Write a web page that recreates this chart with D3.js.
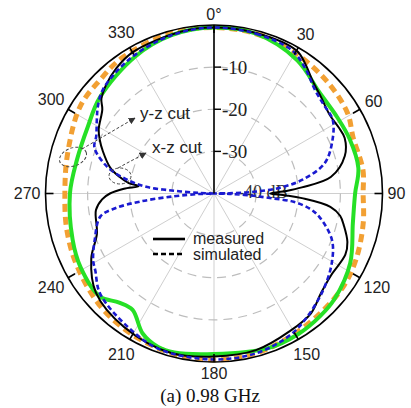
<!DOCTYPE html>
<html><head><meta charset="utf-8">
<script src="https://cdn.jsdelivr.net/npm/d3@7/dist/d3.min.js"></script>
<style>html,body{margin:0;padding:0;background:#fff}</style>
</head><body>
<svg id="c" width="411" height="408"></svg>
<script>
// ---- data: [angle in degrees, gain in dB] ----
const angleTicks = [0,30,60,90,120,150,180,210,240,270,300,330];
const angleLabels = ["0°","30","60","90","120","150","180","210","240","270","300","330"];
const dbTicks = [-10,-20,-30];
const dbLabels = ["-10","-20","-30"];
const centerLabel = "-40 dB";

const yzSimulated = [[0,-0.6],[15,-0.8],[30,-1.5],[45,-2.2],[59,-3.0],[68,-4.4],[81,-4.2],[90,-4.6],[101,-3.9],[114,-2.9],[125,-2.2],[138,-2.0],[152,-1.5],[165,-0.8],[180,-0.5],[195,-0.8],[210,-1.3],[225,-2.0],[242,-3.2],[256,-4.0],[270,-4.6],[285,-4.0],[303,-2.1],[315,-1.8],[326,-1.1],[345,-0.6]];
const yzMeasured = [[0,-0.6],[15,-0.8],[32,-2.7],[46,-5.3],[58,-5.6],[68,-5.3],[80,-5.2],[90,-6.5],[102,-6.3],[117,-3.7],[131,-2.0],[139,-1.5],[149,-1.1],[161,-1.1],[180,-1.9],[194,-1.1],[200,-1.2],[207,-2.7],[215,-6.3],[221,-5.7],[228,-3.5],[241,-3.8],[252,-4.7],[270,-5.8],[284,-6.5],[298,-6.1],[310,-4.6],[330,-2.5],[345,-1.1]];
const xzMeasured = [[0,-0.6],[15,-0.6],[30,-0.8],[35,-2.3],[41,-4.4],[48,-5.8],[56,-6.8],[62,-6.5],[67,-6.3],[74,-7.7],[82,-12.0],[86,-19.1],[88,-22.9],[90,-26.7],[91.5,-22.9],[93,-19.1],[96.5,-12.2],[100,-9.6],[104,-8.2],[110,-6.3],[115,-5.6],[125,-6.1],[133,-5.3],[141,-3.4],[151,-2.7],[165,-1.5],[180,-1.3],[195,-0.8],[214,-1.8],[230,-3.4],[242,-7.0],[251,-10.6],[262,-11.7],[267,-13.4],[270,-15.3],[273,-18.6],[275.5,-22.0],[277,-19.6],[280,-17.2],[284,-14.6],[291,-11.7],[295,-10.1],[299,-8.7],[307,-6.8],[310,-5.1],[315,-3.7],[322,-2.3],[330,-1.3],[348,-0.8]];
const xzSimulated = [[0,-0.6],[15,-0.8],[28.5,-1.3],[36,-3.2],[44,-5.6],[51,-6.5],[58,-6.8],[65.6,-9.1],[74.6,-12.7],[81,-18.6],[85,-24.3],[87.5,-30.5],[89,-36.4],[90,-40],[91.5,-36.4],[93,-31.7],[94.6,-26.7],[96,-21.0],[99,-17.0],[102.5,-14.4],[111.5,-9.9],[120.7,-7.5],[131.5,-5.4],[143,-3.3],[152,-1.8],[165,-0.8],[180,-0.6],[199,-0.8],[213,-2.3],[228.7,-4.0],[237,-6.4],[241,-7.2],[248.7,-9.6],[258.6,-12.5],[261.5,-16.3],[263.8,-22.4],[266,-30.5],[268,-36.4],[270,-40],[272,-36.4],[274,-30.5],[275.5,-24.1],[279,-19.1],[284,-13.9],[291,-9.6],[296,-8.9],[302,-7.2],[306.7,-5.6],[313,-3.9],[328,-2.3],[345,-1.1]];

// ---- layout ----
const cx = 214, cy = 193.5, R = 168.5;
const svg = d3.select("#c");
const g = svg.append("g").attr("transform", `translate(${cx},${cy})`);
const r = d3.scaleLinear().domain([-40, 0]).range([0, R]);
const rad = d => d * Math.PI / 180;
const sans = "Liberation Sans, Arial, sans-serif", serif = "Liberation Serif, Times New Roman, serif";

// spokes
g.selectAll("line.spoke").data(d3.range(0, 360, 30)).join("line")
  .attr("x1", 0).attr("y1", 0)
  .attr("x2", d => R * Math.sin(rad(d))).attr("y2", d => -R * Math.cos(rad(d)))
  .attr("stroke", "#cfcfcf").attr("stroke-width", 1);
// dashed dB circles
g.selectAll("circle.grid").data(dbTicks).join("circle")
  .attr("r", d => r(d)).attr("fill", "none")
  .attr("stroke", "#bdbdbd").attr("stroke-width", 1.2).attr("stroke-dasharray", "9,6");

// center label (under the curves)
g.append("text").attr("x", 24).attr("y", -2).attr("dominant-baseline", "central")
  .attr("font-family", serif).attr("font-size", 18).attr("fill", "#333")
  .text(centerLabel);

// curves
const line = d3.lineRadial().angle(d => rad(d[0])).radius(d => r(d[1]))
  .curve(d3.curveCatmullRomClosed.alpha(0.5));
g.append("path").attr("d", line(yzSimulated)).attr("fill", "none")
  .attr("stroke", "#f2a033").attr("stroke-width", 5).attr("stroke-dasharray", "8,5");
g.append("path").attr("d", line(yzMeasured)).attr("fill", "none")
  .attr("stroke", "#26e026").attr("stroke-width", 4);
g.append("path").attr("d", line(xzMeasured)).attr("fill", "none")
  .attr("stroke", "#000").attr("stroke-width", 2);
g.append("path").attr("d", line(xzSimulated)).attr("fill", "none")
  .attr("stroke", "#1a1ad0").attr("stroke-width", 2.6).attr("stroke-dasharray", "5,3");

// outer circle & ticks
g.append("circle").attr("r", R).attr("fill", "none").attr("stroke", "#000").attr("stroke-width", 1.6);
g.selectAll("line.otick").data(angleTicks).join("line")
  .attr("x1", d => (R - 8) * Math.sin(rad(d))).attr("y1", d => -(R - 8) * Math.cos(rad(d)))
  .attr("x2", d => R * Math.sin(rad(d))).attr("y2", d => -R * Math.cos(rad(d)))
  .attr("stroke", "#000").attr("stroke-width", 1.6);
const alab = g.selectAll("text.alab").data(angleTicks).join("text")
  .attr("text-anchor", "middle").attr("dominant-baseline", "central")
  .attr("font-family", sans).attr("font-size", 16).attr("fill", "#222")
  .text((d, i) => angleLabels[i]);
alab.each(function(d) {
  const w = this.getComputedTextLength(), h = 12;
  const s = Math.sin(rad(d)), c = Math.cos(rad(d));
  const off = R + 5 + Math.abs(s) * w / 2 + Math.abs(c) * h / 2;
  d3.select(this).attr("x", off * s).attr("y", -off * c);
});

// radial axis
g.append("line").attr("x1", 0).attr("y1", 0).attr("x2", 0).attr("y2", -R)
  .attr("stroke", "#000").attr("stroke-width", 1.6);
g.selectAll("line.rtick").data(dbTicks).join("line")
  .attr("x1", 0).attr("x2", 7).attr("y1", d => -r(d)).attr("y2", d => -r(d))
  .attr("stroke", "#000").attr("stroke-width", 1.4);
g.selectAll("text.rlab").data(dbTicks).join("text")
  .attr("x", 8).attr("y", d => -r(d)).attr("dominant-baseline", "central")
  .attr("font-family", serif).attr("font-size", 19).attr("fill", "#222")
  .text((d, i) => dbLabels[i]);

// legend
const lg = svg.append("g");
lg.append("line").attr("x1", 153).attr("x2", 185).attr("y1", 239).attr("y2", 239).attr("stroke", "#000").attr("stroke-width", 2.6);
lg.append("line").attr("x1", 153).attr("x2", 185).attr("y1", 254).attr("y2", 254).attr("stroke", "#000").attr("stroke-width", 2.6).attr("stroke-dasharray", "5,3");
lg.append("text").attr("x", 193).attr("y", 238).attr("dominant-baseline", "central")
  .attr("font-family", sans).attr("font-size", 16).attr("fill", "#222").text("measured");
lg.append("text").attr("x", 193).attr("y", 254).attr("dominant-baseline", "central")
  .attr("font-family", sans).attr("font-size", 16).attr("fill", "#222").text("simulated");

// annotations
svg.append("defs").append("marker").attr("id", "ah").attr("viewBox", "0 0 10 10")
  .attr("refX", 9).attr("refY", 5).attr("markerWidth", 7).attr("markerHeight", 7).attr("orient", "auto")
  .append("path").attr("d", "M0,0L10,5L0,10Z").attr("fill", "#333");
const ann = svg.append("g").attr("fill", "none").attr("stroke", "#444").attr("stroke-width", 1);
ann.append("ellipse").attr("cx", 73).attr("cy", 157).attr("rx", 14).attr("ry", 9)
  .attr("transform", "rotate(-20,73,157)").attr("stroke-dasharray", "3,2");
ann.append("ellipse").attr("cx", 120).attr("cy", 176).attr("rx", 11).attr("ry", 8).attr("stroke-dasharray", "3,2");
ann.append("path").attr("d", "M82,149L135,118").attr("stroke-dasharray", "3,2").attr("marker-end", "url(#ah)");
ann.append("path").attr("d", "M118,168L129,162L146,153").attr("stroke-dasharray", "3,2").attr("marker-end", "url(#ah)");
svg.append("text").attr("x", 140).attr("y", 113).attr("dominant-baseline", "central")
  .attr("font-family", sans).attr("font-size", 17).attr("fill", "#222").text("y-z cut");
svg.append("text").attr("x", 152).attr("y", 147).attr("dominant-baseline", "central")
  .attr("font-family", sans).attr("font-size", 17).attr("fill", "#222").text("x-z cut");

// caption
svg.append("text").attr("x", 210).attr("y", 395).attr("text-anchor", "middle").attr("dominant-baseline", "central")
  .attr("font-family", serif).attr("font-size", 19).attr("fill", "#111").text("(a) 0.98 GHz");
</script>
</body></html>
